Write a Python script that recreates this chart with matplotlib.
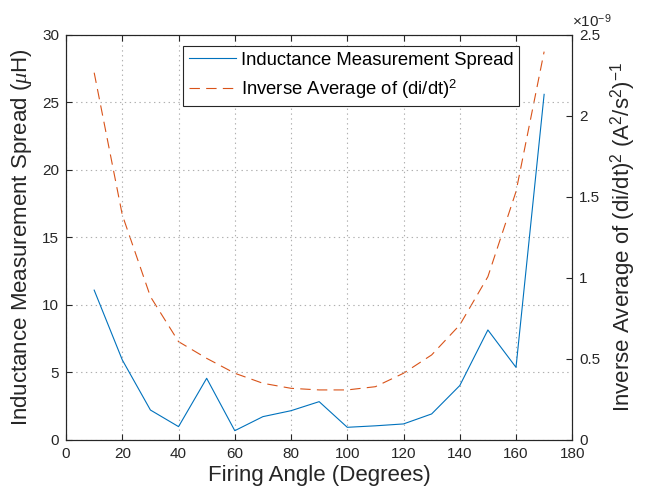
import matplotlib
matplotlib.use("Agg")
import matplotlib.pyplot as plt

plt.rcParams['font.family'] = ['Liberation Sans', 'DejaVu Sans']
plt.rcParams['mathtext.fontset'] = 'custom'
plt.rcParams['mathtext.rm'] = 'Liberation Sans'
plt.rcParams['mathtext.it'] = 'Liberation Serif:italic'
plt.rcParams['lines.scale_dashes'] = False

firing_angle = [10, 20, 30, 40, 50, 60, 70, 80, 90, 100, 110, 120, 130, 140, 150, 160, 170]
spread_uH = [11.1, 5.93, 2.22, 0.99, 4.57, 0.69, 1.73, 2.17, 2.84, 0.94, 1.05, 1.19, 1.93, 4.03, 8.15, 5.38, 25.6]
inv_avg_didt2 = [2.267e-9, 1.389e-9, 0.885e-9, 0.607e-9, 0.504e-9, 0.412e-9, 0.350e-9, 0.319e-9,
                 0.309e-9, 0.309e-9, 0.329e-9, 0.412e-9, 0.525e-9, 0.710e-9, 1.008e-9, 1.533e-9, 2.397e-9]

x_ticks = [0, 20, 40, 60, 80, 100, 120, 140, 160, 180]
left_ticks = [0, 5, 10, 15, 20, 25, 30]
right_ticks = [0, 0.5e-9, 1.0e-9, 1.5e-9, 2.0e-9, 2.5e-9]
right_tick_labels = ['0', '0.5', '1', '1.5', '2', '2.5']

blue = '#0072BD'
orange = '#D95319'
axc = '#262626'

fig = plt.figure(figsize=(6.54, 4.97), dpi=100)
ax = fig.add_axes([0.101, 0.1147, 0.774, 0.815])
ax2 = ax.twinx()

l1, = ax.plot(firing_angle, spread_uH, color=blue, lw=0.8)
l2, = ax2.plot(firing_angle, inv_avg_didt2, color=orange, lw=0.8, ls=(0, (7.5, 4.5)))

ax.set_xlim(0, 180)
ax.set_ylim(0, 30)
ax2.set_ylim(0, 2.5e-9)
ax.set_xticks(x_ticks)
ax.set_yticks(left_ticks)
ax2.set_yticks(right_ticks)
ax2.set_yticklabels(right_tick_labels)

ax.grid(True, color='#b0b0b0', ls=(0, (1, 2.5)), lw=0.8)
ax.tick_params(axis='both', direction='in', labelsize=11, colors=axc, length=4, width=0.8,
               top=True, right=False, labelcolor='#262626', pad=5)
ax2.tick_params(axis='y', direction='in', labelsize=11, colors=axc, length=4, width=0.8, pad=5)
for a in (ax, ax2):
    for s in a.spines.values():
        s.set_color(axc)
        s.set_linewidth(0.8)

ax.set_xlabel('Firing Angle (Degrees)', fontsize=16, color=axc, labelpad=3)
ax.set_ylabel(r'Inductance Measurement Spread ($\mathit{\mu}$H)', fontsize=16, color=axc, labelpad=6)
ax2.set_ylabel(r'Inverse Average of (di/dt)$^2$ (A$^2$/s$^2$)$^{-1}$', fontsize=16, color=axc, labelpad=6)

ax2.text(1.0, 1.012, r'$\times$10$^{-9}$', transform=ax2.transAxes, fontsize=11, color=axc,
         ha='left', va='bottom')

leg = ax.legend([l1, l2], ['Inductance Measurement Spread', r'Inverse Average of (di/dt)$^2$'],
                loc='upper left', bbox_to_anchor=(0.2315, 0.972), fontsize=13.3,
                frameon=True, fancybox=False, edgecolor=axc, framealpha=1,
                handlelength=2.55, handletextpad=0.25, borderpad=0.3, labelspacing=0.45,
                borderaxespad=0)
leg.get_frame().set_linewidth(0.8)
ax.set_zorder(ax2.get_zorder() + 1)
ax.patch.set_visible(False)

fig.savefig('out.png', dpi=100)
